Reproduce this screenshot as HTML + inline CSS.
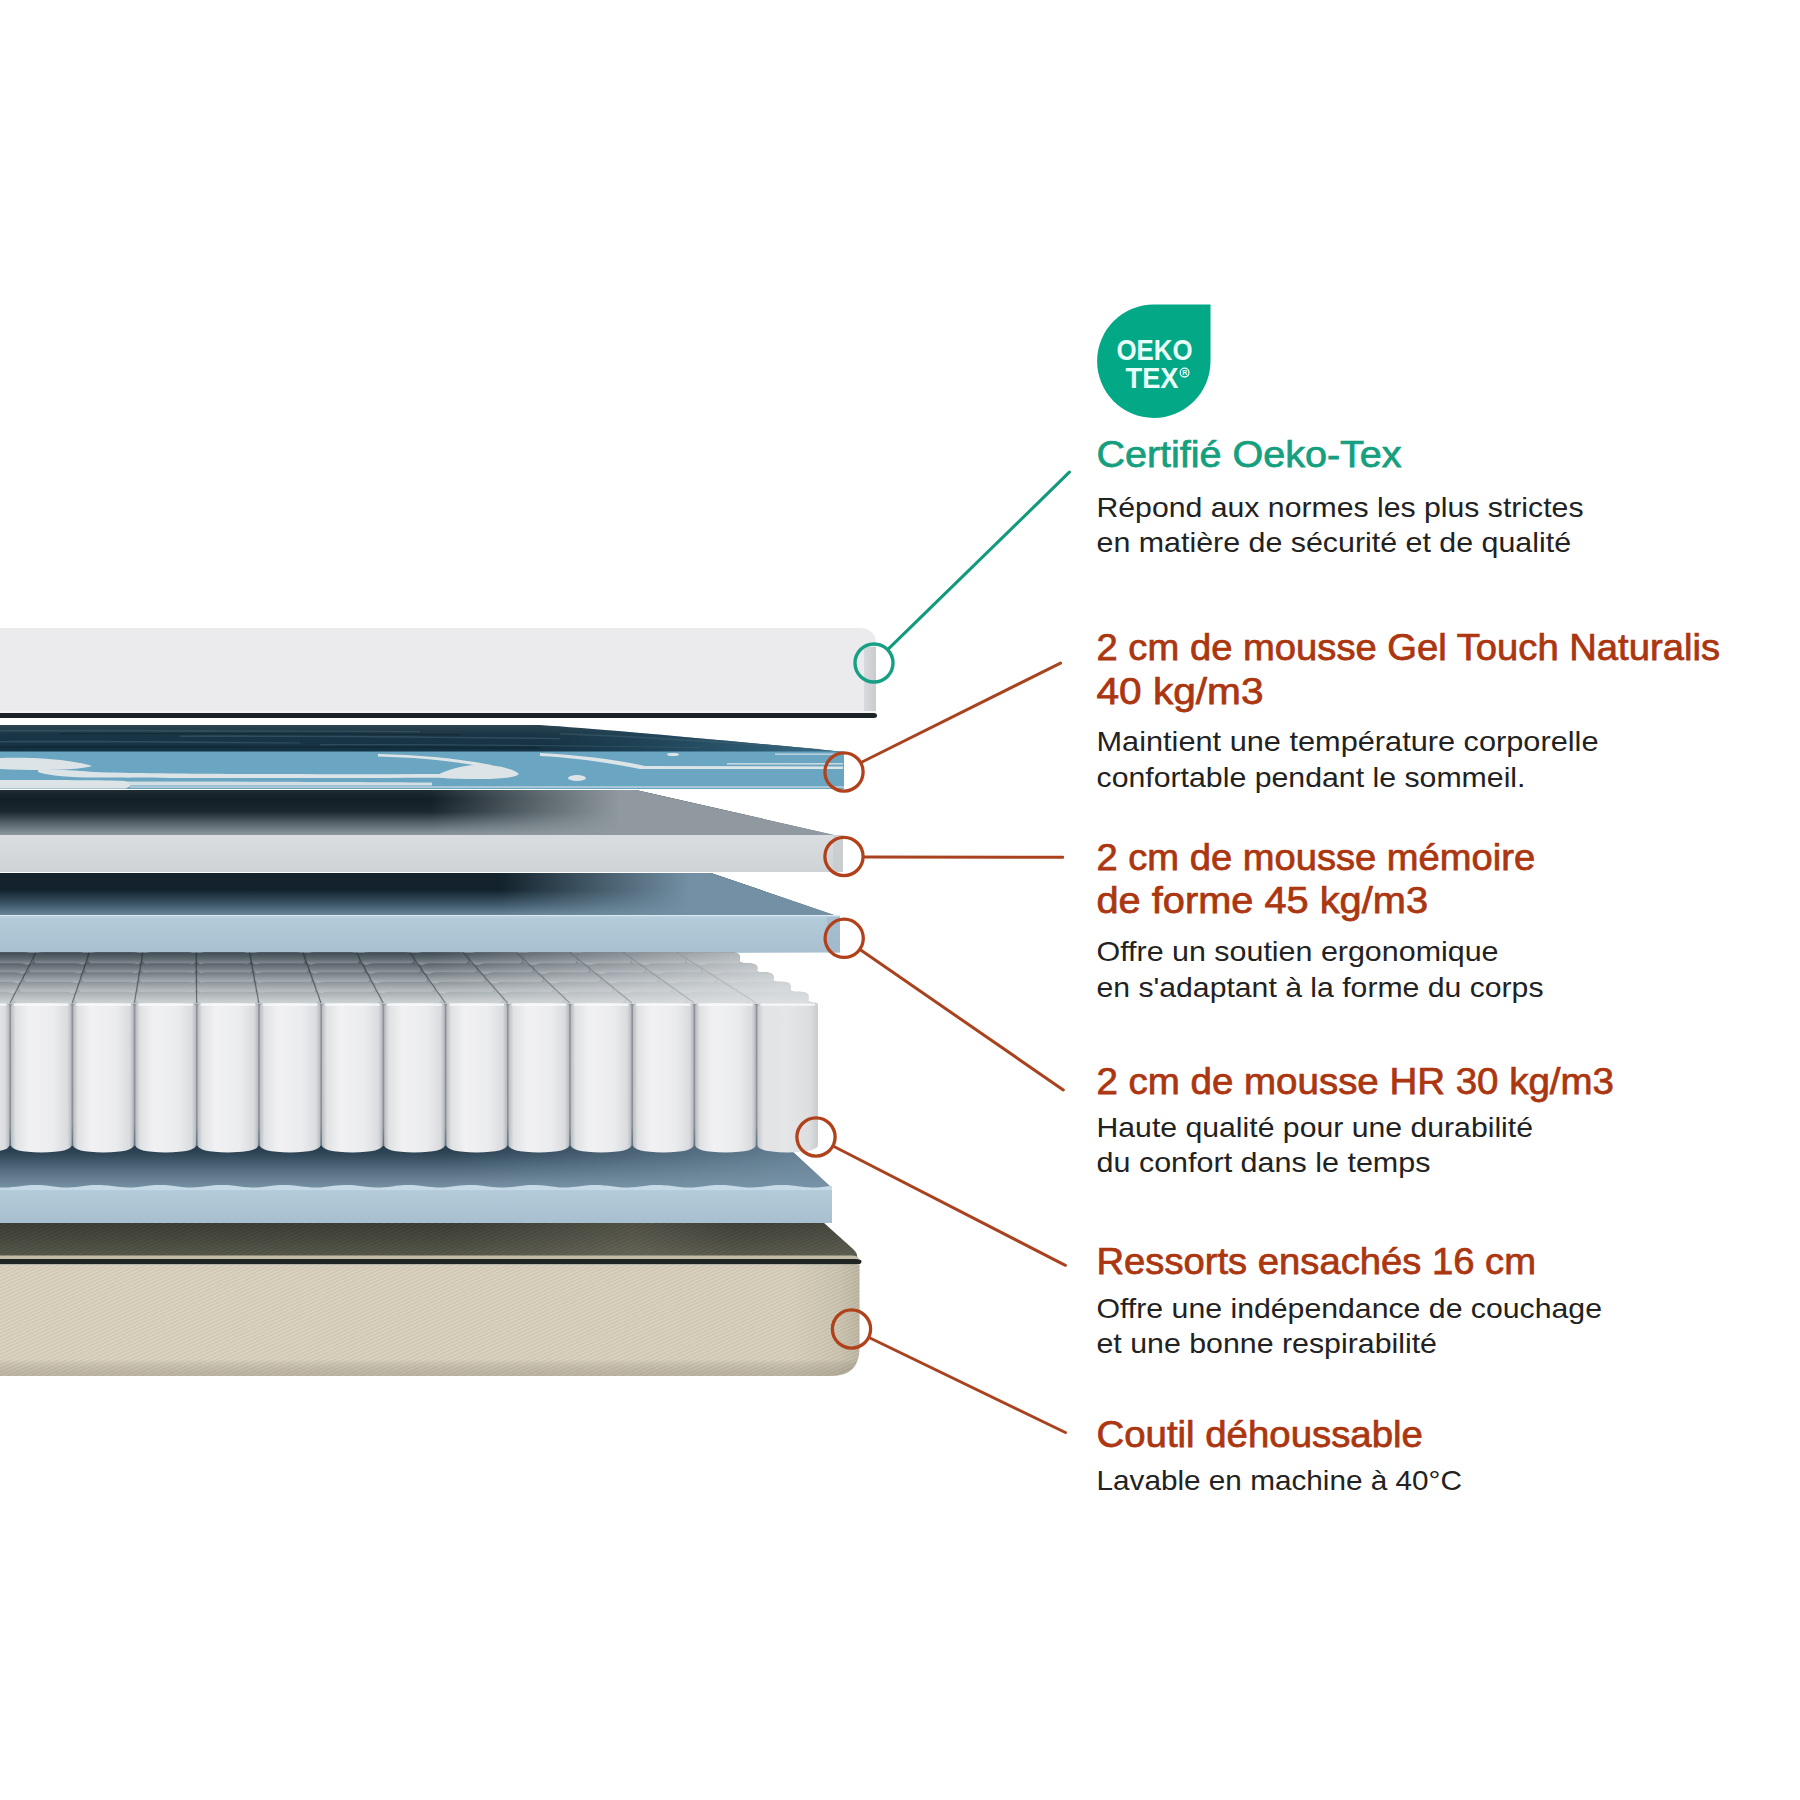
<!DOCTYPE html>
<html><head><meta charset="utf-8">
<style>
html,body{margin:0;padding:0;background:#fff;}
body{width:1800px;height:1800px;overflow:hidden;position:relative;font-family:"Liberation Sans",sans-serif;}
svg{position:absolute;left:0;top:0;}
.h{font-family:"Liberation Sans",sans-serif;font-size:36.8px;fill:#ab3610;font-weight:400;stroke:#ab3610;stroke-width:0.75px;}
.hg{fill:#14a07f;stroke:#14a07f;}
.b{font-family:"Liberation Sans",sans-serif;font-size:28px;fill:#222;}
</style></head>
<body>
<svg width="1800" height="1800" viewBox="0 0 1800 1800">
<defs>
  <linearGradient id="topSide" x1="0" x2="1" y1="0" y2="0">
    <stop offset="0" stop-color="#d9dadd"/><stop offset="1" stop-color="#c9cbcf"/>
  </linearGradient>
  <linearGradient id="gelDarkR" gradientUnits="userSpaceOnUse" x1="540" x2="844" y1="0" y2="0">
    <stop offset="0" stop-color="#2a5a74" stop-opacity="0"/><stop offset="1" stop-color="#3f7894" stop-opacity="0.9"/>
  </linearGradient>
  <linearGradient id="gelDark" x1="0" x2="0" y1="0" y2="1">
    <stop offset="0" stop-color="#2c4450"/><stop offset="0.35" stop-color="#1a3545"/><stop offset="1" stop-color="#143244"/>
  </linearGradient>
  <linearGradient id="memTop" x1="0" x2="0" y1="0" y2="1">
    <stop offset="0" stop-color="#1f2c34"/><stop offset="0.2" stop-color="#131f26"/><stop offset="0.48" stop-color="#1a272f"/><stop offset="0.75" stop-color="#58656d"/><stop offset="1" stop-color="#8e989e"/>
  </linearGradient>
  <linearGradient id="memTopV" gradientUnits="userSpaceOnUse" x1="430" x2="620" y1="0" y2="0">
    <stop offset="0" stop-color="#8f999f" stop-opacity="0"/><stop offset="1" stop-color="#8f999f" stop-opacity="1"/>
  </linearGradient>
  <linearGradient id="hrTop" x1="0" x2="0" y1="0" y2="1">
    <stop offset="0" stop-color="#15232c"/><stop offset="0.4" stop-color="#12222c"/><stop offset="0.75" stop-color="#3f5869"/><stop offset="1" stop-color="#6a8598"/>
  </linearGradient>
  <linearGradient id="hrTopV" gradientUnits="userSpaceOnUse" x1="500" x2="690" y1="0" y2="0">
    <stop offset="0" stop-color="#7390a4" stop-opacity="0"/><stop offset="1" stop-color="#7390a4" stop-opacity="1"/>
  </linearGradient>
  <linearGradient id="memFront" x1="0" x2="0" y1="0" y2="1">
    <stop offset="0" stop-color="#dadddf"/><stop offset="1" stop-color="#cfd3d6"/>
  </linearGradient>
  <linearGradient id="hrFront" x1="0" x2="0" y1="0" y2="1">
    <stop offset="0" stop-color="#bcd2e0"/><stop offset="0.1" stop-color="#b3cad9"/><stop offset="1" stop-color="#a7bfcf"/>
  </linearGradient>
  <linearGradient id="backRows" x1="0" x2="0" y1="0" y2="1">
    <stop offset="0" stop-color="#404a52"/><stop offset="0.3" stop-color="#646e75"/><stop offset="0.65" stop-color="#9ca3a8"/><stop offset="1" stop-color="#c2c7ca"/>
  </linearGradient>
  <linearGradient id="backRowsH" gradientUnits="userSpaceOnUse" x1="430" x2="780" y1="0" y2="0">
    <stop offset="0" stop-color="#dfe2e4" stop-opacity="0"/><stop offset="1" stop-color="#dfe2e4" stop-opacity="0.8"/>
  </linearGradient>
  <linearGradient id="cyl" x1="0" x2="1" y1="0" y2="0">
    <stop offset="0" stop-color="#b9bcc0"/><stop offset="0.08" stop-color="#dfe1e3"/><stop offset="0.3" stop-color="#f1f1f3"/><stop offset="0.7" stop-color="#ebecee"/><stop offset="0.93" stop-color="#d9dbde"/><stop offset="1" stop-color="#b5b8bc"/>
  </linearGradient>
  <linearGradient id="hr2Top" x1="0" x2="0" y1="0" y2="1">
    <stop offset="0" stop-color="#24394a"/><stop offset="0.25" stop-color="#2c4354"/><stop offset="0.55" stop-color="#4c6678"/><stop offset="0.9" stop-color="#6f899b"/><stop offset="1" stop-color="#7690a3"/>
  </linearGradient>
  <linearGradient id="coutilTop" x1="0" x2="0" y1="0" y2="1">
    <stop offset="0" stop-color="#393a32"/><stop offset="0.5" stop-color="#47483e"/><stop offset="1" stop-color="#58594c"/>
  </linearGradient>
  <linearGradient id="coutilTopH" gradientUnits="userSpaceOnUse" x1="450" x2="860" y1="0" y2="0">
    <stop offset="0" stop-color="#8a8a78" stop-opacity="0"/><stop offset="0.45" stop-color="#8a8a78" stop-opacity="0.28"/><stop offset="0.7" stop-color="#8a8a78" stop-opacity="0.05"/><stop offset="1" stop-color="#8a8a78" stop-opacity="0.15"/>
  </linearGradient>
  <linearGradient id="coutilFront" x1="0" x2="1" y1="0" y2="0">
    <stop offset="0" stop-color="#d7cfbc"/><stop offset="0.92" stop-color="#d4ccb9"/><stop offset="0.975" stop-color="#c6bfab"/><stop offset="1" stop-color="#b4ad9a"/>
  </linearGradient>
  <linearGradient id="coutilFrontV" x1="0" x2="0" y1="0" y2="1">
    <stop offset="0" stop-color="#000" stop-opacity="0"/><stop offset="0.85" stop-color="#000" stop-opacity="0"/><stop offset="1" stop-color="#6a6350" stop-opacity="0.25"/>
  </linearGradient>
<linearGradient id="cylLast" x1="0" x2="1" y1="0" y2="0">
    <stop offset="0" stop-color="#c4c7ca"/><stop offset="0.1" stop-color="#e2e3e5"/><stop offset="0.5" stop-color="#e4e5e7"/><stop offset="0.85" stop-color="#dcdee0"/><stop offset="1" stop-color="#c9ccce"/>
  </linearGradient>
<linearGradient id="gapG" x1="0" x2="0" y1="0" y2="1">
    <stop offset="0" stop-color="#8d9398"/><stop offset="0.85" stop-color="#8a9095"/><stop offset="1" stop-color="#5c7386"/>
  </linearGradient>
<!--SPDEFS--><!--/SPDEFS-->
<pattern id="twill" width="6" height="3.2" patternUnits="userSpaceOnUse" patternTransform="rotate(-24)">
    <rect width="6" height="1.1" fill="#e6dfcd"/><rect y="1.6" width="6" height="1.0" fill="#bfb7a2"/>
  </pattern>
  <pattern id="twillD" width="6" height="3.2" patternUnits="userSpaceOnUse" patternTransform="rotate(-24)">
    <rect width="6" height="1.1" fill="#6d6c5c"/><rect y="1.6" width="6" height="1.0" fill="#2f3029"/>
  </pattern>
<linearGradient id="ellG" x1="0" x2="0" y1="0" y2="1">
    <stop offset="0" stop-color="#979ea3"/><stop offset="0.55" stop-color="#b4b9bc"/><stop offset="1" stop-color="#cdd1d3"/>
  </linearGradient>
<linearGradient id="hr2TopH" gradientUnits="userSpaceOnUse" x1="450" x2="800" y1="0" y2="0">
    <stop offset="0" stop-color="#7894a8" stop-opacity="0"/><stop offset="1" stop-color="#7894a8" stop-opacity="0.75"/>
  </linearGradient>
</defs>

<!-- ===== TOP LAYER (white cover) ===== -->
<path d="M0 628 H859 Q876 628 876 645 V713 H0 Z" fill="#ebebed"/>
<rect x="864" y="647" width="12" height="66" fill="url(#topSide)"/>
<rect x="0" y="711" width="876" height="2" fill="#f4f4f5"/>
<path d="M0 713 H874 Q877 713 877 715.5 Q877 718 874 718 H0 Z" fill="#1d2427"/>

<!-- ===== GEL LAYER ===== -->
<g id="gel">
  <path d="M0 725 H540 C600 729 700 738 844 752 L844 753 H0 Z" fill="url(#gelDark)"/>
  <path d="M540 725 C600 729 700 738 844 752 L844 753 L520 753 Z" fill="url(#gelDarkR)"/>
  <rect x="0" y="751.5" width="844" height="37.5" fill="#6aa5c1"/>
  <g fill="#41606f" opacity="0.55">
    <path d="M0 730 C120 729.5 260 730.5 420 731 L420 732.2 C260 731.8 120 731.3 0 731.5 Z"/>
    <path d="M180 735.5 C300 735 420 736 560 738 L560 739.3 C420 737.5 300 736.6 180 737 Z"/>
    <path d="M0 741 C90 740.5 200 741.5 300 742.5 L300 743.6 C200 742.8 90 742.3 0 742.4 Z"/>
    <path d="M320 744 C420 743.5 520 744.5 700 747 L700 748 C520 746 420 745.2 320 745.4 Z"/>
    <path d="M560 733 C640 736 720 741 820 749 L820 750 C720 742.5 640 737.5 560 734.4 Z"/>
  </g>
  <g fill="#0e2230" opacity="0.5">
    <path d="M0 746 C150 745.5 350 746 540 747 L540 749 C350 748 150 747.7 0 748 Z"/>
    <path d="M60 733 C200 732.7 330 733.2 460 734 L460 735.2 C330 734.5 200 734.2 60 734.4 Z"/>
  </g>
  <g fill="#dde4e7">
    <path d="M0 758 C30 757 70 759 92 766 C80 770 40 771 0 769 Z"/>
    <path d="M38 770 C60 769 80 771 95 772 C150 774 300 774.5 445 774 L445 777.8 C300 778.3 150 778 95 777.5 C70 777.5 50 776 38 772 Z"/>
    <path d="M440 773.5 C455 767 470 764 490 765 C505 767 515 770 519 774 C514 778 500 779 480 779 C460 779 445 778.5 440 777.5 Z"/>
    <path d="M378 754 C420 755 455 758 492 765 L486 767.5 C455 761 420 757.5 378 756.5 Z"/>
    <path d="M0 780 C50 780 110 780 125 781 C132 784 132 787 125 788.5 L0 788.5 Z"/>
    <path d="M125 781.5 C250 781.5 380 782 432 782.5 L432 785.5 C380 785.5 250 785.5 125 785.5 Z" opacity="0.9"/>
    <path d="M540 753 C580 755 620 760 645 766 L843 766.5 V769 L640 769 C615 764 580 758 540 756 Z"/>
    <rect x="727" y="763" width="116" height="1.6" opacity="0.8"/>
    <ellipse cx="673" cy="754.5" rx="6" ry="1.6"/>
    <ellipse cx="577" cy="778" rx="9" ry="3"/>
    <rect x="775" y="753.5" width="60" height="1.5" opacity="0.7"/>
  </g>
  <rect x="130" y="786.3" width="714" height="1.5" fill="#bcd3df"/>
</g>

<!-- ===== MEMORY FOAM ===== -->
<path d="M0 790 H636 L834 835 H0 Z" fill="url(#memTop)"/>
<path d="M0 790 H636 L834 835 H0 Z" fill="url(#memTopV)"/>
<rect x="0" y="835" width="843" height="37" fill="url(#memFront)"/>
<rect x="833" y="835" width="10" height="37" fill="#c3c8cb" opacity="0.6"/>

<!-- ===== HR FOAM ===== -->
<path d="M0 873 H711 L834 915 H0 Z" fill="url(#hrTop)"/>
<path d="M0 873 H711 L834 915 H0 Z" fill="url(#hrTopV)"/>
<path d="M0 915.5 H840 V952.5 L0 955.5 Z" fill="url(#hrFront)"/>
<rect x="827" y="917" width="13" height="35.5" fill="#9bb4c6" opacity="0.55"/>

<!-- ===== HR2 (bottom blue) ===== -->
<path d="M0 1140 H780 L832 1188 H0 Z" fill="url(#hr2Top)"/>
<path d="M0 1140 H780 L832 1188 H0 Z" fill="url(#hr2TopH)"/>
<rect x="0" y="1188" width="832" height="35" fill="url(#hrFront)"/>
<path d="M0 1190 L0,1187.4 L4,1187.5 L8,1187.4 L12,1187.1 L16,1186.7 L20,1186.2 L24,1185.7 L28,1185.3 L32,1185.0 L36,1184.9 L40,1185.0 L44,1185.3 L48,1185.8 L52,1186.3 L56,1186.8 L60,1187.2 L64,1187.5 L68,1187.5 L72,1187.3 L76,1187.0 L80,1186.5 L84,1186.0 L88,1185.5 L92,1185.1 L96,1184.9 L100,1184.9 L104,1185.2 L108,1185.5 L112,1186.0 L116,1186.6 L120,1187.0 L124,1187.3 L128,1187.5 L132,1187.4 L136,1187.2 L140,1186.8 L144,1186.3 L148,1185.7 L152,1185.3 L156,1185.0 L160,1184.9 L164,1185.0 L168,1185.3 L172,1185.7 L176,1186.3 L180,1186.8 L184,1187.2 L188,1187.4 L192,1187.5 L196,1187.3 L200,1187.0 L204,1186.5 L208,1186.0 L212,1185.5 L216,1185.1 L220,1184.9 L224,1184.9 L228,1185.1 L232,1185.5 L236,1186.0 L240,1186.5 L244,1187.0 L248,1187.3 L252,1187.5 L256,1187.5 L260,1187.2 L264,1186.8 L268,1186.3 L272,1185.8 L276,1185.3 L280,1185.0 L284,1184.9 L288,1185.0 L292,1185.3 L296,1185.7 L300,1186.2 L304,1186.7 L308,1187.1 L312,1187.4 L316,1187.5 L320,1187.4 L324,1187.0 L328,1186.6 L332,1186.1 L336,1185.6 L340,1185.2 L344,1184.9 L348,1184.9 L352,1185.1 L356,1185.4 L360,1185.9 L364,1186.4 L368,1186.9 L372,1187.3 L376,1187.5 L380,1187.5 L384,1187.2 L388,1186.9 L392,1186.4 L396,1185.8 L400,1185.4 L404,1185.0 L408,1184.9 L412,1185.0 L416,1185.2 L420,1185.7 L424,1186.2 L428,1186.7 L432,1187.1 L436,1187.4 L440,1187.5 L444,1187.4 L448,1187.1 L452,1186.6 L456,1186.1 L460,1185.6 L464,1185.2 L468,1185.0 L472,1184.9 L476,1185.1 L480,1185.4 L484,1185.9 L488,1186.4 L492,1186.9 L496,1187.3 L500,1187.5 L504,1187.5 L508,1187.3 L512,1186.9 L516,1186.4 L520,1185.9 L524,1185.4 L528,1185.1 L532,1184.9 L536,1185.0 L540,1185.2 L544,1185.6 L548,1186.1 L552,1186.6 L556,1187.1 L560,1187.4 L564,1187.5 L568,1187.4 L572,1187.1 L576,1186.7 L580,1186.2 L584,1185.7 L588,1185.2 L592,1185.0 L596,1184.9 L600,1185.0 L604,1185.4 L608,1185.8 L612,1186.3 L616,1186.8 L620,1187.2 L624,1187.5 L628,1187.5 L632,1187.3 L636,1186.9 L640,1186.5 L644,1185.9 L648,1185.5 L652,1185.1 L656,1184.9 L660,1184.9 L664,1185.2 L668,1185.6 L672,1186.1 L676,1186.6 L680,1187.0 L684,1187.4 L688,1187.5 L692,1187.4 L696,1187.2 L700,1186.7 L704,1186.2 L708,1185.7 L712,1185.3 L716,1185.0 L720,1184.9 L724,1185.0 L728,1185.3 L732,1185.8 L736,1186.3 L740,1186.8 L744,1187.2 L748,1187.4 L752,1187.5 L756,1187.3 L760,1187.0 L764,1186.5 L768,1186.0 L772,1185.5 L776,1185.1 L780,1184.9 L784,1184.9 L788,1185.1 L792,1185.5 L796,1186.0 L800,1186.5 L804,1187.0 L808,1187.3 L812,1187.5 L816,1187.4 L820,1187.2 L824,1186.8 L828,1186.3 L832,1185.8 L832 1190 Z" fill="#c6d9e6"/>

<!-- ===== SPRINGS ===== -->
<g id="springs">
    <!--SPRINGS-->
<polygon points="0.0,952.5 723.2,952.5 730.2,958.0 744.4,963.5 742.4,963.5 749.4,968.0 760.2,972.5 758.2,972.5 765.2,977.2 776.8,982.0 774.8,982.0 781.8,987.0 794.3,992.0 792.3,992.0 799.3,997.2 812.6,1002.5 817.5,1003.0 817.5,1007.0 0.0,1007.0" fill="url(#backRows)"/>
<defs><linearGradient id="rg0" x1="0" x2="0" y1="0" y2="1"><stop offset="0" stop-color="#404a52"/><stop offset="0.55" stop-color="#5f6970"/><stop offset="1" stop-color="#90989d"/></linearGradient><linearGradient id="rg1" x1="0" x2="0" y1="0" y2="1"><stop offset="0" stop-color="#58626a"/><stop offset="0.55" stop-color="#788087"/><stop offset="1" stop-color="#a0a6ac"/></linearGradient><linearGradient id="rg2" x1="0" x2="0" y1="0" y2="1"><stop offset="0" stop-color="#6f787f"/><stop offset="0.55" stop-color="#939ba0"/><stop offset="1" stop-color="#b2b8bc"/></linearGradient><linearGradient id="rg3" x1="0" x2="0" y1="0" y2="1"><stop offset="0" stop-color="#8b9398"/><stop offset="0.55" stop-color="#aab0b5"/><stop offset="1" stop-color="#c1c6ca"/></linearGradient><linearGradient id="rg4" x1="0" x2="0" y1="0" y2="1"><stop offset="0" stop-color="#a4abaf"/><stop offset="0.55" stop-color="#bfc4c7"/><stop offset="1" stop-color="#ced3d5"/></linearGradient></defs>
<g fill="url(#rg0)"><rect x="-129.2" y="952.2" width="53.5" height="12.6" rx="9" ry="4"/><rect x="-74.8" y="952.2" width="53.5" height="12.6" rx="9" ry="4"/><rect x="-20.4" y="952.2" width="53.5" height="12.6" rx="9" ry="4"/><rect x="33.9" y="952.2" width="53.5" height="12.6" rx="9" ry="4"/><rect x="88.3" y="952.2" width="53.5" height="12.6" rx="9" ry="4"/><rect x="142.7" y="952.2" width="53.5" height="12.6" rx="9" ry="4"/><rect x="197.0" y="952.2" width="53.5" height="12.6" rx="9" ry="4"/><rect x="251.4" y="952.2" width="53.5" height="12.6" rx="9" ry="4"/><rect x="305.7" y="952.2" width="53.5" height="12.6" rx="9" ry="4"/><rect x="360.1" y="952.2" width="53.5" height="12.6" rx="9" ry="4"/><rect x="414.5" y="952.2" width="53.5" height="12.6" rx="9" ry="4"/><rect x="468.8" y="952.2" width="53.5" height="12.6" rx="9" ry="4"/><rect x="523.2" y="952.2" width="53.5" height="12.6" rx="9" ry="4"/><rect x="577.6" y="952.2" width="53.5" height="12.6" rx="9" ry="4"/><rect x="631.9" y="952.2" width="53.5" height="12.6" rx="9" ry="4"/><rect x="686.3" y="952.2" width="53.5" height="12.6" rx="9" ry="4"/></g>
<g fill="url(#rg1)"><rect x="-139.5" y="963.2" width="55.2" height="10.6" rx="9" ry="4"/><rect x="-83.4" y="963.2" width="55.2" height="10.6" rx="9" ry="4"/><rect x="-27.3" y="963.2" width="55.2" height="10.6" rx="9" ry="4"/><rect x="28.8" y="963.2" width="55.2" height="10.6" rx="9" ry="4"/><rect x="84.9" y="963.2" width="55.2" height="10.6" rx="9" ry="4"/><rect x="141.0" y="963.2" width="55.2" height="10.6" rx="9" ry="4"/><rect x="197.1" y="963.2" width="55.2" height="10.6" rx="9" ry="4"/><rect x="253.3" y="963.2" width="55.2" height="10.6" rx="9" ry="4"/><rect x="309.4" y="963.2" width="55.2" height="10.6" rx="9" ry="4"/><rect x="365.5" y="963.2" width="55.2" height="10.6" rx="9" ry="4"/><rect x="421.6" y="963.2" width="55.2" height="10.6" rx="9" ry="4"/><rect x="477.7" y="963.2" width="55.2" height="10.6" rx="9" ry="4"/><rect x="533.8" y="963.2" width="55.2" height="10.6" rx="9" ry="4"/><rect x="589.9" y="963.2" width="55.2" height="10.6" rx="9" ry="4"/><rect x="646.0" y="963.2" width="55.2" height="10.6" rx="9" ry="4"/><rect x="702.1" y="963.2" width="55.2" height="10.6" rx="9" ry="4"/></g>
<g fill="url(#rg2)"><rect x="-149.0" y="972.2" width="56.8" height="11.1" rx="9" ry="4"/><rect x="-91.3" y="972.2" width="56.8" height="11.1" rx="9" ry="4"/><rect x="-33.6" y="972.2" width="56.8" height="11.1" rx="9" ry="4"/><rect x="24.1" y="972.2" width="56.8" height="11.1" rx="9" ry="4"/><rect x="81.8" y="972.2" width="56.8" height="11.1" rx="9" ry="4"/><rect x="139.6" y="972.2" width="56.8" height="11.1" rx="9" ry="4"/><rect x="197.3" y="972.2" width="56.8" height="11.1" rx="9" ry="4"/><rect x="255.0" y="972.2" width="56.8" height="11.1" rx="9" ry="4"/><rect x="312.7" y="972.2" width="56.8" height="11.1" rx="9" ry="4"/><rect x="370.4" y="972.2" width="56.8" height="11.1" rx="9" ry="4"/><rect x="428.1" y="972.2" width="56.8" height="11.1" rx="9" ry="4"/><rect x="485.8" y="972.2" width="56.8" height="11.1" rx="9" ry="4"/><rect x="543.6" y="972.2" width="56.8" height="11.1" rx="9" ry="4"/><rect x="601.3" y="972.2" width="56.8" height="11.1" rx="9" ry="4"/><rect x="659.0" y="972.2" width="56.8" height="11.1" rx="9" ry="4"/><rect x="716.7" y="972.2" width="56.8" height="11.1" rx="9" ry="4"/></g>
<g fill="url(#rg3)"><rect x="-159.1" y="981.7" width="58.5" height="11.6" rx="9" ry="4"/><rect x="-99.7" y="981.7" width="58.5" height="11.6" rx="9" ry="4"/><rect x="-40.3" y="981.7" width="58.5" height="11.6" rx="9" ry="4"/><rect x="19.2" y="981.7" width="58.5" height="11.6" rx="9" ry="4"/><rect x="78.6" y="981.7" width="58.5" height="11.6" rx="9" ry="4"/><rect x="138.0" y="981.7" width="58.5" height="11.6" rx="9" ry="4"/><rect x="197.4" y="981.7" width="58.5" height="11.6" rx="9" ry="4"/><rect x="256.8" y="981.7" width="58.5" height="11.6" rx="9" ry="4"/><rect x="316.2" y="981.7" width="58.5" height="11.6" rx="9" ry="4"/><rect x="375.6" y="981.7" width="58.5" height="11.6" rx="9" ry="4"/><rect x="435.0" y="981.7" width="58.5" height="11.6" rx="9" ry="4"/><rect x="494.5" y="981.7" width="58.5" height="11.6" rx="9" ry="4"/><rect x="553.9" y="981.7" width="58.5" height="11.6" rx="9" ry="4"/><rect x="613.3" y="981.7" width="58.5" height="11.6" rx="9" ry="4"/><rect x="672.7" y="981.7" width="58.5" height="11.6" rx="9" ry="4"/><rect x="732.1" y="981.7" width="58.5" height="11.6" rx="9" ry="4"/></g>
<g fill="url(#rg4)"><rect x="-169.7" y="991.7" width="60.2" height="12.1" rx="9" ry="4"/><rect x="-108.5" y="991.7" width="60.2" height="12.1" rx="9" ry="4"/><rect x="-47.3" y="991.7" width="60.2" height="12.1" rx="9" ry="4"/><rect x="13.9" y="991.7" width="60.2" height="12.1" rx="9" ry="4"/><rect x="75.1" y="991.7" width="60.2" height="12.1" rx="9" ry="4"/><rect x="136.3" y="991.7" width="60.2" height="12.1" rx="9" ry="4"/><rect x="197.5" y="991.7" width="60.2" height="12.1" rx="9" ry="4"/><rect x="258.7" y="991.7" width="60.2" height="12.1" rx="9" ry="4"/><rect x="319.9" y="991.7" width="60.2" height="12.1" rx="9" ry="4"/><rect x="381.1" y="991.7" width="60.2" height="12.1" rx="9" ry="4"/><rect x="442.3" y="991.7" width="60.2" height="12.1" rx="9" ry="4"/><rect x="503.5" y="991.7" width="60.2" height="12.1" rx="9" ry="4"/><rect x="564.7" y="991.7" width="60.2" height="12.1" rx="9" ry="4"/><rect x="625.9" y="991.7" width="60.2" height="12.1" rx="9" ry="4"/><rect x="687.1" y="991.7" width="60.2" height="12.1" rx="9" ry="4"/><rect x="748.3" y="991.7" width="60.2" height="12.1" rx="9" ry="4"/></g>
<g stroke="#1c2429" stroke-width="1.2" opacity="0.5"><line x1="-176.6" y1="1003.0" x2="-124.3" y2="952.5"/><line x1="-114.4" y1="1003.0" x2="-70.9" y2="952.5"/><line x1="-52.2" y1="1003.0" x2="-17.5" y2="952.5"/><line x1="10.0" y1="1003.0" x2="35.9" y2="952.5"/><line x1="72.2" y1="1003.0" x2="89.3" y2="952.5"/><line x1="134.4" y1="1003.0" x2="142.7" y2="952.5"/><line x1="196.6" y1="1003.0" x2="196.1" y2="952.5"/><line x1="258.8" y1="1003.0" x2="249.5" y2="952.5"/><line x1="321.0" y1="1003.0" x2="302.9" y2="952.5"/><line x1="383.2" y1="1003.0" x2="356.3" y2="952.5"/><line x1="445.4" y1="1003.0" x2="409.7" y2="952.5"/><line x1="507.6" y1="1003.0" x2="463.1" y2="952.5"/><line x1="569.8" y1="1003.0" x2="516.5" y2="952.5"/><line x1="632.0" y1="1003.0" x2="569.9" y2="952.5"/><line x1="694.2" y1="1003.0" x2="623.3" y2="952.5"/><line x1="756.4" y1="1003.0" x2="676.7" y2="952.5"/></g>
<clipPath id="cellsClip"><polygon points="0.0,952.5 723.2,952.5 730.2,958.0 744.4,963.5 742.4,963.5 749.4,968.0 760.2,972.5 758.2,972.5 765.2,977.2 776.8,982.0 774.8,982.0 781.8,987.0 794.3,992.0 792.3,992.0 799.3,997.2 812.6,1002.5 817.5,1003.0 817.5,1007.0 0.0,1007.0"/><rect x="-129.2" y="952.2" width="53.5" height="12.6" rx="9" ry="4"/><rect x="-74.8" y="952.2" width="53.5" height="12.6" rx="9" ry="4"/><rect x="-20.4" y="952.2" width="53.5" height="12.6" rx="9" ry="4"/><rect x="33.9" y="952.2" width="53.5" height="12.6" rx="9" ry="4"/><rect x="88.3" y="952.2" width="53.5" height="12.6" rx="9" ry="4"/><rect x="142.7" y="952.2" width="53.5" height="12.6" rx="9" ry="4"/><rect x="197.0" y="952.2" width="53.5" height="12.6" rx="9" ry="4"/><rect x="251.4" y="952.2" width="53.5" height="12.6" rx="9" ry="4"/><rect x="305.7" y="952.2" width="53.5" height="12.6" rx="9" ry="4"/><rect x="360.1" y="952.2" width="53.5" height="12.6" rx="9" ry="4"/><rect x="414.5" y="952.2" width="53.5" height="12.6" rx="9" ry="4"/><rect x="468.8" y="952.2" width="53.5" height="12.6" rx="9" ry="4"/><rect x="523.2" y="952.2" width="53.5" height="12.6" rx="9" ry="4"/><rect x="577.6" y="952.2" width="53.5" height="12.6" rx="9" ry="4"/><rect x="631.9" y="952.2" width="53.5" height="12.6" rx="9" ry="4"/><rect x="686.3" y="952.2" width="53.5" height="12.6" rx="9" ry="4"/><rect x="-139.5" y="963.2" width="55.2" height="10.6" rx="9" ry="4"/><rect x="-83.4" y="963.2" width="55.2" height="10.6" rx="9" ry="4"/><rect x="-27.3" y="963.2" width="55.2" height="10.6" rx="9" ry="4"/><rect x="28.8" y="963.2" width="55.2" height="10.6" rx="9" ry="4"/><rect x="84.9" y="963.2" width="55.2" height="10.6" rx="9" ry="4"/><rect x="141.0" y="963.2" width="55.2" height="10.6" rx="9" ry="4"/><rect x="197.1" y="963.2" width="55.2" height="10.6" rx="9" ry="4"/><rect x="253.3" y="963.2" width="55.2" height="10.6" rx="9" ry="4"/><rect x="309.4" y="963.2" width="55.2" height="10.6" rx="9" ry="4"/><rect x="365.5" y="963.2" width="55.2" height="10.6" rx="9" ry="4"/><rect x="421.6" y="963.2" width="55.2" height="10.6" rx="9" ry="4"/><rect x="477.7" y="963.2" width="55.2" height="10.6" rx="9" ry="4"/><rect x="533.8" y="963.2" width="55.2" height="10.6" rx="9" ry="4"/><rect x="589.9" y="963.2" width="55.2" height="10.6" rx="9" ry="4"/><rect x="646.0" y="963.2" width="55.2" height="10.6" rx="9" ry="4"/><rect x="702.1" y="963.2" width="55.2" height="10.6" rx="9" ry="4"/><rect x="-149.0" y="972.2" width="56.8" height="11.1" rx="9" ry="4"/><rect x="-91.3" y="972.2" width="56.8" height="11.1" rx="9" ry="4"/><rect x="-33.6" y="972.2" width="56.8" height="11.1" rx="9" ry="4"/><rect x="24.1" y="972.2" width="56.8" height="11.1" rx="9" ry="4"/><rect x="81.8" y="972.2" width="56.8" height="11.1" rx="9" ry="4"/><rect x="139.6" y="972.2" width="56.8" height="11.1" rx="9" ry="4"/><rect x="197.3" y="972.2" width="56.8" height="11.1" rx="9" ry="4"/><rect x="255.0" y="972.2" width="56.8" height="11.1" rx="9" ry="4"/><rect x="312.7" y="972.2" width="56.8" height="11.1" rx="9" ry="4"/><rect x="370.4" y="972.2" width="56.8" height="11.1" rx="9" ry="4"/><rect x="428.1" y="972.2" width="56.8" height="11.1" rx="9" ry="4"/><rect x="485.8" y="972.2" width="56.8" height="11.1" rx="9" ry="4"/><rect x="543.6" y="972.2" width="56.8" height="11.1" rx="9" ry="4"/><rect x="601.3" y="972.2" width="56.8" height="11.1" rx="9" ry="4"/><rect x="659.0" y="972.2" width="56.8" height="11.1" rx="9" ry="4"/><rect x="716.7" y="972.2" width="56.8" height="11.1" rx="9" ry="4"/><rect x="-159.1" y="981.7" width="58.5" height="11.6" rx="9" ry="4"/><rect x="-99.7" y="981.7" width="58.5" height="11.6" rx="9" ry="4"/><rect x="-40.3" y="981.7" width="58.5" height="11.6" rx="9" ry="4"/><rect x="19.2" y="981.7" width="58.5" height="11.6" rx="9" ry="4"/><rect x="78.6" y="981.7" width="58.5" height="11.6" rx="9" ry="4"/><rect x="138.0" y="981.7" width="58.5" height="11.6" rx="9" ry="4"/><rect x="197.4" y="981.7" width="58.5" height="11.6" rx="9" ry="4"/><rect x="256.8" y="981.7" width="58.5" height="11.6" rx="9" ry="4"/><rect x="316.2" y="981.7" width="58.5" height="11.6" rx="9" ry="4"/><rect x="375.6" y="981.7" width="58.5" height="11.6" rx="9" ry="4"/><rect x="435.0" y="981.7" width="58.5" height="11.6" rx="9" ry="4"/><rect x="494.5" y="981.7" width="58.5" height="11.6" rx="9" ry="4"/><rect x="553.9" y="981.7" width="58.5" height="11.6" rx="9" ry="4"/><rect x="613.3" y="981.7" width="58.5" height="11.6" rx="9" ry="4"/><rect x="672.7" y="981.7" width="58.5" height="11.6" rx="9" ry="4"/><rect x="732.1" y="981.7" width="58.5" height="11.6" rx="9" ry="4"/><rect x="-169.7" y="991.7" width="60.2" height="12.1" rx="9" ry="4"/><rect x="-108.5" y="991.7" width="60.2" height="12.1" rx="9" ry="4"/><rect x="-47.3" y="991.7" width="60.2" height="12.1" rx="9" ry="4"/><rect x="13.9" y="991.7" width="60.2" height="12.1" rx="9" ry="4"/><rect x="75.1" y="991.7" width="60.2" height="12.1" rx="9" ry="4"/><rect x="136.3" y="991.7" width="60.2" height="12.1" rx="9" ry="4"/><rect x="197.5" y="991.7" width="60.2" height="12.1" rx="9" ry="4"/><rect x="258.7" y="991.7" width="60.2" height="12.1" rx="9" ry="4"/><rect x="319.9" y="991.7" width="60.2" height="12.1" rx="9" ry="4"/><rect x="381.1" y="991.7" width="60.2" height="12.1" rx="9" ry="4"/><rect x="442.3" y="991.7" width="60.2" height="12.1" rx="9" ry="4"/><rect x="503.5" y="991.7" width="60.2" height="12.1" rx="9" ry="4"/><rect x="564.7" y="991.7" width="60.2" height="12.1" rx="9" ry="4"/><rect x="625.9" y="991.7" width="60.2" height="12.1" rx="9" ry="4"/><rect x="687.1" y="991.7" width="60.2" height="12.1" rx="9" ry="4"/><rect x="748.3" y="991.7" width="60.2" height="12.1" rx="9" ry="4"/></clipPath>
<rect x="0" y="950" width="830" height="56" fill="url(#backRowsH)" clip-path="url(#cellsClip)"/>
<g><rect x="0" y="1004" width="816" height="142" fill="url(#gapG)"/><path d="M-51.2 1007.0 Q-51.2 1003.0 -47.2 1003.0 L5.4 1003.0 Q9.4 1003.0 9.4 1007.0 L9.4 1145.0 Q9.4 1152.0 -20.9 1152.5 Q-51.2 1152.0 -51.2 1145.0 Z" fill="url(#cyl)"/><rect x="-48.2" y="1003.6" width="54.6" height="2.2" fill="#fbfbfc" opacity="0.8"/><path d="M11.0 1007.0 Q11.0 1003.0 15.0 1003.0 L67.6 1003.0 Q71.6 1003.0 71.6 1007.0 L71.6 1145.0 Q71.6 1152.0 41.3 1152.5 Q11.0 1152.0 11.0 1145.0 Z" fill="url(#cyl)"/><rect x="14.0" y="1003.6" width="54.6" height="2.2" fill="#fbfbfc" opacity="0.8"/><path d="M73.2 1007.0 Q73.2 1003.0 77.2 1003.0 L129.8 1003.0 Q133.8 1003.0 133.8 1007.0 L133.8 1145.0 Q133.8 1152.0 103.5 1152.5 Q73.2 1152.0 73.2 1145.0 Z" fill="url(#cyl)"/><rect x="76.2" y="1003.6" width="54.6" height="2.2" fill="#fbfbfc" opacity="0.8"/><path d="M135.4 1007.0 Q135.4 1003.0 139.4 1003.0 L192.0 1003.0 Q196.0 1003.0 196.0 1007.0 L196.0 1145.0 Q196.0 1152.0 165.7 1152.5 Q135.4 1152.0 135.4 1145.0 Z" fill="url(#cyl)"/><rect x="138.4" y="1003.6" width="54.6" height="2.2" fill="#fbfbfc" opacity="0.8"/><path d="M197.6 1007.0 Q197.6 1003.0 201.6 1003.0 L254.2 1003.0 Q258.2 1003.0 258.2 1007.0 L258.2 1145.0 Q258.2 1152.0 227.9 1152.5 Q197.6 1152.0 197.6 1145.0 Z" fill="url(#cyl)"/><rect x="200.6" y="1003.6" width="54.6" height="2.2" fill="#fbfbfc" opacity="0.8"/><path d="M259.8 1007.0 Q259.8 1003.0 263.8 1003.0 L316.4 1003.0 Q320.4 1003.0 320.4 1007.0 L320.4 1145.0 Q320.4 1152.0 290.1 1152.5 Q259.8 1152.0 259.8 1145.0 Z" fill="url(#cyl)"/><rect x="262.8" y="1003.6" width="54.6" height="2.2" fill="#fbfbfc" opacity="0.8"/><path d="M322.0 1007.0 Q322.0 1003.0 326.0 1003.0 L378.6 1003.0 Q382.6 1003.0 382.6 1007.0 L382.6 1145.0 Q382.6 1152.0 352.3 1152.5 Q322.0 1152.0 322.0 1145.0 Z" fill="url(#cyl)"/><rect x="325.0" y="1003.6" width="54.6" height="2.2" fill="#fbfbfc" opacity="0.8"/><path d="M384.2 1007.0 Q384.2 1003.0 388.2 1003.0 L440.8 1003.0 Q444.8 1003.0 444.8 1007.0 L444.8 1145.0 Q444.8 1152.0 414.5 1152.5 Q384.2 1152.0 384.2 1145.0 Z" fill="url(#cyl)"/><rect x="387.2" y="1003.6" width="54.6" height="2.2" fill="#fbfbfc" opacity="0.8"/><path d="M446.4 1007.0 Q446.4 1003.0 450.4 1003.0 L503.0 1003.0 Q507.0 1003.0 507.0 1007.0 L507.0 1145.0 Q507.0 1152.0 476.7 1152.5 Q446.4 1152.0 446.4 1145.0 Z" fill="url(#cyl)"/><rect x="449.4" y="1003.6" width="54.6" height="2.2" fill="#fbfbfc" opacity="0.8"/><path d="M508.6 1007.0 Q508.6 1003.0 512.6 1003.0 L565.2 1003.0 Q569.2 1003.0 569.2 1007.0 L569.2 1145.0 Q569.2 1152.0 538.9 1152.5 Q508.6 1152.0 508.6 1145.0 Z" fill="url(#cyl)"/><rect x="511.6" y="1003.6" width="54.6" height="2.2" fill="#fbfbfc" opacity="0.8"/><path d="M570.8 1007.0 Q570.8 1003.0 574.8 1003.0 L627.4 1003.0 Q631.4 1003.0 631.4 1007.0 L631.4 1145.0 Q631.4 1152.0 601.1 1152.5 Q570.8 1152.0 570.8 1145.0 Z" fill="url(#cyl)"/><rect x="573.8" y="1003.6" width="54.6" height="2.2" fill="#fbfbfc" opacity="0.8"/><path d="M633.0 1007.0 Q633.0 1003.0 637.0 1003.0 L689.6 1003.0 Q693.6 1003.0 693.6 1007.0 L693.6 1145.0 Q693.6 1152.0 663.3 1152.5 Q633.0 1152.0 633.0 1145.0 Z" fill="url(#cyl)"/><rect x="636.0" y="1003.6" width="54.6" height="2.2" fill="#fbfbfc" opacity="0.8"/><path d="M695.2 1007.0 Q695.2 1003.0 699.2 1003.0 L751.8 1003.0 Q755.8 1003.0 755.8 1007.0 L755.8 1145.0 Q755.8 1152.0 725.5 1152.5 Q695.2 1152.0 695.2 1145.0 Z" fill="url(#cyl)"/><rect x="698.2" y="1003.6" width="54.6" height="2.2" fill="#fbfbfc" opacity="0.8"/><path d="M757.4 1007.0 Q757.4 1003.0 761.4 1003.0 L814.0 1003.0 Q818.0 1003.0 818.0 1007.0 L818.0 1145.0 Q818.0 1152.0 787.7 1152.5 Q757.4 1152.0 757.4 1145.0 Z" fill="url(#cylLast)"/><rect x="760.4" y="1003.6" width="54.6" height="2.2" fill="#fbfbfc" opacity="0.8"/></g>
<!--/SPRINGS-->
</g>

<!-- ===== COUTIL ===== -->
<path d="M0 1223 H824 L853 1249 Q858 1254 857 1257 H0 Z" fill="url(#coutilTop)"/>
<path d="M0 1223 H824 L853 1249 Q858 1254 857 1257 H0 Z" fill="url(#coutilTopH)"/>
<path d="M0 1223 H824 L853 1249 Q858 1254 857 1257 H0 Z" fill="url(#twillD)" opacity="0.14"/>
<path d="M0 1255.5 H852 Q858 1255.5 859 1259 L0 1259 Z" fill="#c2bba6"/>
<path d="M0 1259 H856 Q862 1259 861.5 1262 Q861 1264.5 856 1264.5 H0 Z" fill="#1f2523"/>
<path d="M0 1264.5 H859.5 V1348 Q859.5 1376 831 1376 H0 Z" fill="url(#coutilFront)"/>
<path d="M0 1264.5 H859.5 V1348 Q859.5 1376 831 1376 H0 Z" fill="url(#twill)" opacity="0.35"/>
<path d="M0 1264.5 H859.5 V1348 Q859.5 1376 831 1376 H0 Z" fill="url(#coutilFrontV)"/>

<!-- ===== CALLOUT LINES + CIRCLES ===== -->
<g fill="none" stroke-linecap="round">
  <line x1="888.7" y1="648.7" x2="1069.4" y2="472.2" stroke="#13997b" stroke-width="3.1"/>
  <circle cx="874" cy="663" r="19" stroke="#16a083" stroke-width="3.4"/>
  <g stroke="#a9431f" stroke-width="3">
    <line x1="862" y1="762" x2="1060.5" y2="663.1"/>
    <line x1="864" y1="856.9" x2="1062.7" y2="857.2"/>
    <line x1="860" y1="949.5" x2="1063.3" y2="1090"/>
    <line x1="833" y1="1146" x2="1065.4" y2="1265.3"/>
    <line x1="870" y1="1338" x2="1065.4" y2="1432.5"/>
  </g>
  <g stroke="#b0411b" stroke-width="3.3">
    <circle cx="844" cy="772" r="19.1"/>
    <circle cx="844" cy="856.5" r="19.1"/>
    <circle cx="844.2" cy="938.3" r="19.1"/>
    <circle cx="816" cy="1137" r="19.1"/>
    <circle cx="851.5" cy="1329" r="19.1"/>
  </g>
</g>

<!-- ===== OEKO-TEX LOGO ===== -->
<path d="M1210.5 304.5 V361.5 A56.7 56.7 0 1 1 1153.8 304.5 Z" fill="#03a887"/>
<text x="1116.5" y="359.6" font-family="Liberation Sans" font-weight="700" font-size="30" fill="#eafff8" textLength="76" lengthAdjust="spacingAndGlyphs">OEKO</text>
<text x="1125.5" y="388" font-family="Liberation Sans" font-weight="700" font-size="30" fill="#eafff8" textLength="53" lengthAdjust="spacingAndGlyphs">TEX</text>
<circle cx="1184.6" cy="372.6" r="4.4" fill="none" stroke="#eafff8" stroke-width="1.3"/>
<text x="1182.2" y="375.4" font-family="Liberation Sans" font-weight="700" font-size="7" fill="#eafff8">R</text>

<!-- ===== TEXT ===== -->
<text class="h hg" x="1096.5" y="467.4" textLength="305" lengthAdjust="spacingAndGlyphs">Certifié Oeko-Tex</text>
<text class="b" x="1096.5" y="517" textLength="487" lengthAdjust="spacingAndGlyphs">Répond aux normes les plus strictes</text>
<text class="b" x="1096.5" y="552.2" textLength="474.6" lengthAdjust="spacingAndGlyphs">en matière de sécurité et de qualité</text>

<text class="h" x="1096.5" y="659.6" textLength="623.5" lengthAdjust="spacingAndGlyphs">2 cm de mousse Gel Touch Naturalis</text>
<text class="h" x="1096.5" y="703.6" textLength="167" lengthAdjust="spacingAndGlyphs">40 kg/m3</text>
<text class="b" x="1096.5" y="751.3" textLength="502" lengthAdjust="spacingAndGlyphs">Maintient une température corporelle</text>
<text class="b" x="1096.5" y="786.8" textLength="429" lengthAdjust="spacingAndGlyphs">confortable pendant le sommeil.</text>

<text class="h" x="1096.5" y="869.6" textLength="438.6" lengthAdjust="spacingAndGlyphs">2 cm de mousse mémoire</text>
<text class="h" x="1096.5" y="913.4" textLength="331.5" lengthAdjust="spacingAndGlyphs">de forme 45 kg/m3</text>
<text class="b" x="1096.5" y="961.4" textLength="402" lengthAdjust="spacingAndGlyphs">Offre un soutien ergonomique</text>
<text class="b" x="1096.5" y="996.5" textLength="447" lengthAdjust="spacingAndGlyphs">en s'adaptant à la forme du corps</text>

<text class="h" x="1096.5" y="1094.4" textLength="517.5" lengthAdjust="spacingAndGlyphs">2 cm de mousse HR 30 kg/m3</text>
<text class="b" x="1096.5" y="1137" textLength="436.5" lengthAdjust="spacingAndGlyphs">Haute qualité pour une durabilité</text>
<text class="b" x="1096.5" y="1171.5" textLength="334" lengthAdjust="spacingAndGlyphs">du confort dans le temps</text>

<text class="h" x="1096.5" y="1274.4" textLength="439.5" lengthAdjust="spacingAndGlyphs">Ressorts ensachés 16 cm</text>
<text class="b" x="1096.5" y="1317.6" textLength="505.5" lengthAdjust="spacingAndGlyphs">Offre une indépendance de couchage</text>
<text class="b" x="1096.5" y="1353" textLength="340.5" lengthAdjust="spacingAndGlyphs">et une bonne respirabilité</text>

<text class="h" x="1096.5" y="1447.4" textLength="326.4" lengthAdjust="spacingAndGlyphs">Coutil déhoussable</text>
<text class="b" x="1096.5" y="1490" textLength="365.4" lengthAdjust="spacingAndGlyphs">Lavable en machine à 40°C</text>
</svg>
</body></html>
